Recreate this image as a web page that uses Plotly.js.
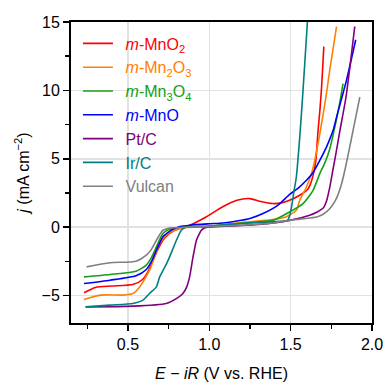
<!DOCTYPE html>
<html>
<head>
<meta charset="utf-8">
<script src="https://cdn.plot.ly/plotly-3.0.1.min.js"></script>
<style>html,body{margin:0;padding:0;background:#fff;}#chart{width:386px;height:385px;}</style>
</head>
<body>
<div id="chart"></div>
<script>
// m-MnO2
const mno2_x = [0.23,0.30,0.40,0.53,0.59,0.625,0.654,0.685,0.715,0.75,0.78,0.83,0.88,0.98,1.08,1.17,1.25,1.31,1.39,1.45,1.50,1.55,1.60,1.62,1.64,1.655,1.668,1.68,1.69,1.704];
const mno2_y = [-4.79,-4.40,-4.30,-4.19,-3.82,-3.20,-2.41,-1.60,-0.95,-0.50,-0.27,-0.05,0.15,0.75,1.48,1.97,2.09,1.90,1.73,1.80,2.00,2.30,2.70,3.10,3.90,4.90,7.00,8.60,10.20,13.20];
// m-Mn2O3
const mn2o3_x = [0.23,0.33,0.47,0.53,0.572,0.633,0.664,0.695,0.736,0.798,0.86,1.00,1.20,1.39,1.47,1.535,1.556,1.597,1.628,1.648,1.683,1.716,1.74,1.782];
const mn2o3_y = [-5.28,-4.96,-4.96,-4.84,-4.36,-3.14,-2.17,-1.19,-0.58,-0.17,-0.02,0.05,0.35,0.56,0.75,1.24,1.97,2.94,3.92,4.89,7.08,9.45,11.46,14.67];
// m-Mn3O4
const mn3o4_x = [0.23,0.39,0.55,0.613,0.645,0.675,0.695,0.715,0.745,0.775,0.82,1.00,1.20,1.39,1.494,1.576,1.638,1.679,1.71,1.74,1.782,1.802,1.822];
const mn3o4_y = [-3.63,-3.45,-3.21,-2.77,-2.20,-1.44,-0.90,-0.46,-0.20,-0.10,0.00,0.05,0.30,0.50,1.12,1.73,2.70,3.92,4.70,5.70,7.90,9.10,10.49];
// m-MnO
const mno_x = [0.23,0.39,0.55,0.613,0.645,0.675,0.695,0.715,0.745,0.777,0.82,0.88,1.00,1.084,1.17,1.25,1.33,1.42,1.494,1.55,1.597,1.638,1.679,1.72,1.761,1.782,1.81,1.843,1.90];
const mno_y = [-4.11,-3.87,-3.55,-3.09,-2.50,-1.68,-1.15,-0.70,-0.40,-0.15,0.05,0.15,0.25,0.31,0.45,0.64,1.00,1.60,2.40,2.90,3.43,4.00,4.89,5.86,7.08,8.05,9.27,10.73,13.70];
// Pt/C
const ptc_x = [0.24,0.53,0.736,0.80,0.838,0.86,0.879,0.90,0.921,0.94,0.951,0.97,0.992,1.10,1.30,1.494,1.617,1.66,1.70,1.72,1.74,1.76,1.78,1.802,1.84,1.865,1.894];
const ptc_y = [-5.82,-5.77,-5.57,-5.20,-4.84,-4.40,-3.63,-2.17,-0.95,-0.45,-0.22,-0.05,0.02,0.08,0.20,0.50,0.88,1.10,1.40,1.90,2.90,4.20,5.50,7.00,9.50,11.80,14.67];
// Ir/C
const irc_x = [0.24,0.388,0.53,0.592,0.633,0.675,0.695,0.736,0.756,0.798,0.828,0.859,0.90,1.00,1.20,1.39,1.46,1.48,1.495,1.51,1.52,1.535,1.556,1.572,1.603,1.61];
const irc_y = [-5.82,-5.69,-5.57,-5.33,-4.84,-4.36,-3.63,-2.70,-2.17,-0.95,-0.22,0.02,0.05,0.08,0.27,0.40,0.45,0.50,0.90,1.80,2.60,3.67,6.60,9.27,15.00,16.30];
// Vulcan
const vul_x = [0.246,0.39,0.55,0.613,0.645,0.675,0.695,0.715,0.745,0.775,0.85,1.00,1.20,1.39,1.494,1.58,1.659,1.70,1.74,1.77,1.79,1.81,1.83,1.855,1.884,1.925];
const vul_y = [-2.90,-2.60,-2.48,-2.04,-1.60,-0.95,-0.55,-0.22,-0.10,-0.05,0.00,0.05,0.15,0.31,0.51,0.62,0.75,0.95,1.35,1.85,2.35,3.05,4.00,5.40,7.10,9.51];

const names = ['<i>m</i>-MnO<sub>2</sub>','<i>m</i>-Mn<sub>2</sub>O<sub>3</sub>','<i>m</i>-Mn<sub>3</sub>O<sub>4</sub>','<i>m</i>-MnO','Pt/C','Ir/C','Vulcan'];
const colors = ['#ff0000','#ff8000','#14a014','#0000ff','#800080','#008080','#808080'];
const xs = [mno2_x,mn2o3_x,mn3o4_x,mno_x,ptc_x,irc_x,vul_x];
const ys = [mno2_y,mn2o3_y,mn3o4_y,mno_y,ptc_y,irc_y,vul_y];

const traces = xs.map((x,i)=>({
  x: x, y: ys[i], type:'scatter', mode:'lines',
  name: '<span style="color:'+colors[i]+'">\u00a0\u2009'+names[i]+'</span>',
  line:{color:colors[i], width:1.6, shape:'spline', smoothing:0.6}
}));

const font = 'Arial, "Liberation Sans", sans-serif';
const layout = {
  width:386, height:385,
  margin:{l:71, r:14, t:22, b:62},
  paper_bgcolor:'#fff', plot_bgcolor:'#fff',
  font:{family:font, size:16, color:'#000'},
  showlegend:true,
  legend:{x:0.023, y:0.985, xanchor:'left', yanchor:'top', bgcolor:'rgba(0,0,0,0)', borderwidth:0, font:{family:font, size:16}},
  xaxis:{
    range:[0.15,2.0], tick0:0.5, dtick:0.5, ticks:'outside', ticklen:6, tickwidth:1.5, tickcolor:'#000',
    showline:true, linewidth:2, linecolor:'#000', mirror:true,
    showgrid:true, gridcolor:'#e2e2e2', gridwidth:1.5, zeroline:false,
    tickformat:'.1f', tickfont:{family:font, size:16},
    minor:{dtick:0.25, tick0:0.25, ticks:'outside', ticklen:4, tickwidth:1.5, tickcolor:'#000', showgrid:false},
    title:{text:'<i>E</i> − <i>iR</i> (V vs. RHE)', font:{family:font, size:16}, standoff:16}
  },
  yaxis:{
    range:[-7,15], tick0:0, dtick:5, ticks:'outside', ticklen:6, tickwidth:1.5, tickcolor:'#000',
    showline:true, linewidth:2, linecolor:'#000', mirror:true,
    showgrid:true, gridcolor:'#e2e2e2', gridwidth:1.5, zeroline:false,
    tickfont:{family:font, size:16},
    minor:{dtick:2.5, tick0:0, ticks:'outside', ticklen:4, tickwidth:1.5, tickcolor:'#000', showgrid:false},
    title:{text:'<i>j</i> (mA cm<sup>−2</sup>)', font:{family:font, size:16}, standoff:8}
  }
};
Plotly.newPlot('chart', traces, layout, {displayModeBar:false, staticPlot:true});
</script>
</body>
</html>
